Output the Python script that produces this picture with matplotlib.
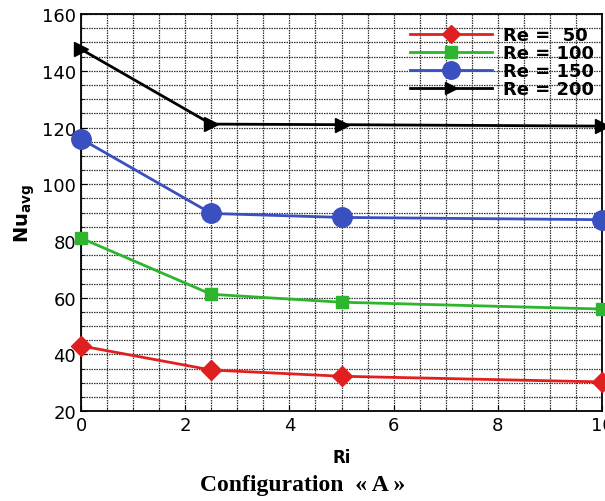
import numpy as np
import matplotlib.pyplot as plt
from matplotlib.ticker import MultipleLocator

# Nusselt number vs Richardson number for each Reynolds number
ri = [0, 2.5, 5, 10]
nu_re50 = [43, 34.5, 32.3, 30.3]
nu_re100 = [81, 61.2, 58.4, 56]
nu_re150 = [116, 89.7, 88.3, 87.5]
nu_re200 = [147.6, 121.2, 121, 120.5]

labels = ['Re =  50', 'Re = 100', 'Re = 150', 'Re = 200']
colors = ['#e02020', '#2db52d', '#3a4fc0', '#000000']
markers = ['D', 's', 'o', '>']
msizes = [10, 9, 14, 10]

fig = plt.figure(figsize=(6.05, 5.02), dpi=100)
ax = fig.add_axes([0.134, 0.179, 0.861, 0.791])

series = [nu_re50, nu_re100, nu_re150, nu_re200]
for y, lab, c, m, ms in zip(series, labels, colors, markers, msizes):
    ax.plot(ri, y, color=c, marker=m, markersize=ms, lw=2, label=lab,
            clip_on=False, zorder=3)

ax.set_xlim(0, 10)
ax.set_ylim(20, 160)
ax.xaxis.set_major_locator(MultipleLocator(2))
ax.xaxis.set_minor_locator(MultipleLocator(0.5))
ax.yaxis.set_major_locator(MultipleLocator(20))
ax.yaxis.set_minor_locator(MultipleLocator(5))
ax.grid(which='both', color='#333333', linestyle=(0, (1.2, 0.8)), lw=0.9)
ax.tick_params(which='both', direction='in', labelsize=13, length=4)
ax.tick_params(which='minor', length=2)
for s in ax.spines.values():
    s.set_linewidth(1.3)

ax.set_xlabel('Ri', fontsize=12, fontweight='bold', labelpad=10)
ax.set_ylabel(r'$\mathbf{Nu}_{\mathbf{avg}}$', fontsize=14, labelpad=4)

leg = ax.legend(loc='upper right', bbox_to_anchor=(1.015, 1.01), frameon=False,
                fontsize=13, handlelength=4.5, labelspacing=0.0,
                handletextpad=0.6, markerscale=0.9)
for t in leg.get_texts():
    t.set_fontweight('bold')

fig.text(0.5, 0.033, 'Configuration  « A »', ha='center', va='center',
         fontsize=17, fontweight='bold', family='Liberation Serif')

fig.savefig('out.png', dpi=100)
